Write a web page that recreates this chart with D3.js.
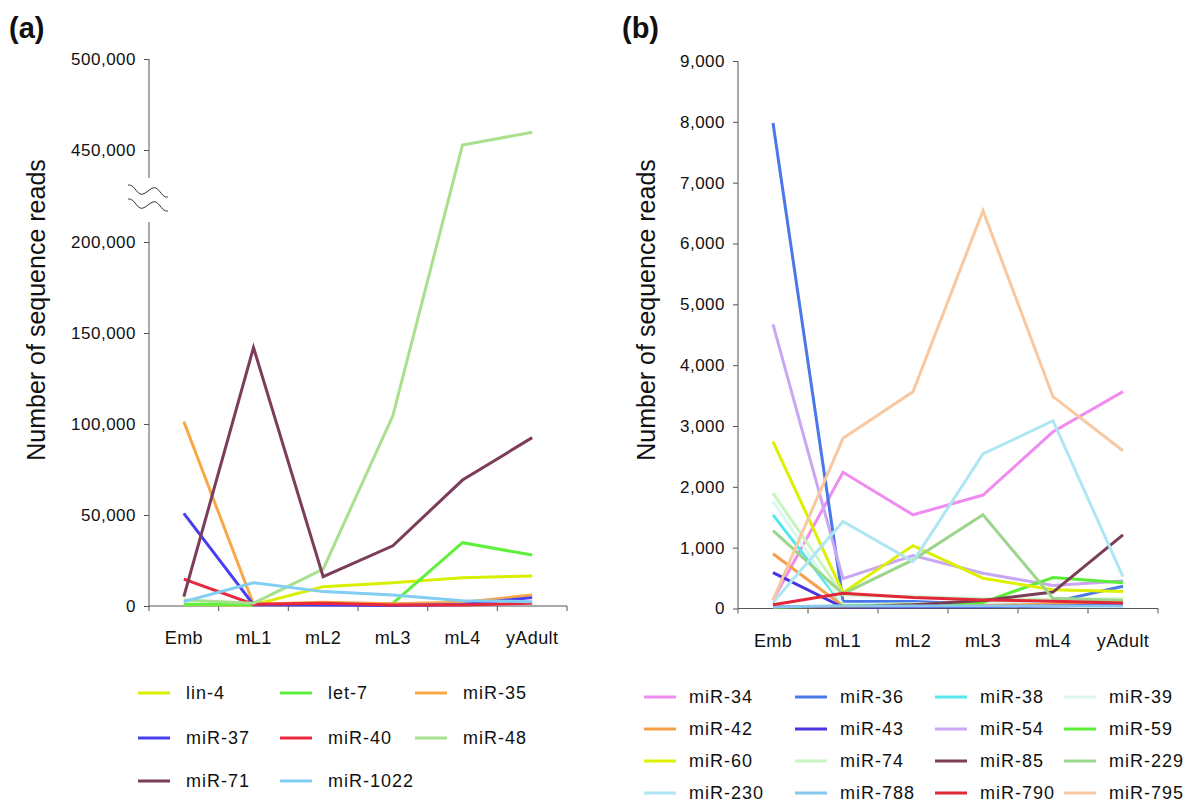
<!DOCTYPE html>
<html><head><meta charset="utf-8">
<script src="https://cdn.jsdelivr.net/npm/d3@7/dist/d3.min.js"></script>
<style>
html,body{margin:0;padding:0;background:#fff;}
svg text{font-family:"Liberation Sans",Arial,Helvetica,sans-serif;fill:#111;}
</style></head>
<body>
<svg id="chart" width="1200" height="808"></svg>
<script>
// ---------- DATA ----------
const stages = ["Emb", "mL1", "mL2", "mL3", "mL4", "yAdult"];

// Panel (a)
const namesA = ["lin-4", "let-7", "miR-35", "miR-37", "miR-40", "miR-48", "miR-71", "miR-1022"];
const colorsA = ["#d8f000", "#5ef03a", "#f8a848", "#4a3ff0", "#e8283c", "#a8e08e", "#7b3d5b", "#82cdf2"];
const lin4   = [800, 600, 10600, 12800, 15500, 16500];
const let7   = [1000, 800, 800, 1500, 34800, 28000];
const mir35  = [101300, 1000, 2000, 1200, 2000, 6000];
const mir37  = [50900, 700, 500, 300, 800, 4600];
const mir40  = [14800, 1000, 1500, 600, 600, 1500];
const mir48  = [3300, 1500, 20300, 104500, 452700, 459700];
const mir71  = [5100, 142000, 16100, 33100, 69200, 92500];
const mir1022 = [2400, 12800, 7900, 6000, 2900, 2400];
const valuesA = [lin4, let7, mir35, mir37, mir40, mir48, mir71, mir1022];
const ticksA = [0, 50000, 100000, 150000, 200000, 450000, 500000];

// Panel (b)
const namesB = ["miR-34", "miR-36", "miR-38", "miR-39", "miR-42", "miR-43", "miR-54", "miR-59",
                "miR-60", "miR-74", "miR-85", "miR-229", "miR-230", "miR-788", "miR-790", "miR-795"];
const colorsB = ["#f08cf0", "#4a78e8", "#55e6ee", "#dcf7f0", "#f5a048", "#4a35e0", "#c8a8f2", "#5aee36",
                 "#dcf000", "#c8f4c0", "#7b3d55", "#9cd68c", "#aee6f4", "#86c6ef", "#e02838", "#f8c8a0"];
const mir34  = [140, 2240, 1540, 1865, 2905, 3565];
const mir36  = [7980, 120, 115, 75, 105, 365];
const mir38  = [1540, 50, 50, 50, 60, 80];
const mir39  = [1760, 60, 80, 100, 90, 100];
const mir42  = [900, 40, 60, 50, 70, 100];
const mir43  = [590, 20, 30, 30, 40, 60];
const mir54  = [4670, 490, 870, 580, 378, 454];
const mir59  = [15, 40, 60, 100, 510, 425];
const mir60  = [2745, 260, 1034, 498, 307, 279];
const mir74  = [1895, 220, 195, 160, 150, 160];
const mir85  = [30, 20, 60, 130, 270, 1210];
const mir229 = [1280, 240, 800, 1540, 167, 130];
const mir230 = [100, 1430, 772, 2540, 3087, 525];
const mir788 = [30, 40, 40, 40, 40, 40];
const mir790 = [60, 250, 180, 140, 120, 90];
const mir795 = [140, 2797, 3564, 6540, 3482, 2594];
const valuesB = [mir34, mir36, mir38, mir39, mir42, mir43, mir54, mir59,
                 mir60, mir74, mir85, mir229, mir230, mir788, mir790, mir795];
const ticksB = [0, 1000, 2000, 3000, 4000, 5000, 6000, 7000, 8000, 9000];

// ---------- DRAW ----------
const svg = d3.select("#chart");
const fmt = d3.format(",");
const AXC = "#555";

function panel(opts) {
  const g = svg.append("g");
  const x = d3.scaleBand().domain(stages).range([opts.x0, opts.x1]).padding(0);
  const y = opts.y;
  const cx = d => x(d) + x.bandwidth() / 2;

  const ya = d3.axisLeft(y).tickValues(opts.ticks).tickFormat(fmt).tickSize(5).tickPadding(8);
  const yg = g.append("g").attr("transform", `translate(${opts.x0},0)`).call(ya);
  yg.select(".domain").remove();
  yg.selectAll(".tick line").attr("stroke", AXC);
  yg.selectAll(".tick text").style("font-size", "17px").style("letter-spacing", "0.5px").attr("fill", "#111");

  opts.ySegments.forEach(s => {
    g.append("line").attr("x1", opts.x0).attr("x2", opts.x0).attr("y1", s[0]).attr("y2", s[1])
      .attr("stroke", AXC).attr("stroke-width", 1);
  });

  const xa = d3.axisBottom(x).tickSize(0).tickPadding(0);
  const xg = g.append("g").attr("transform", `translate(0,${y(0)})`).call(xa);
  xg.select(".domain").remove();
  xg.selectAll(".tick text").attr("y", 0).attr("dy", "38px").style("font-size", "18px")
    .style("letter-spacing", "0.4px").attr("fill", "#111");
  g.append("line").attr("x1", opts.x0).attr("x2", opts.x1).attr("y1", y(0)).attr("y2", y(0))
    .attr("stroke", AXC).attr("stroke-width", 1);
  const bounds = stages.map(s => x(s)).concat([opts.x1]);
  g.selectAll(".xt").data(bounds).enter().append("line")
    .attr("x1", d => d).attr("x2", d => d).attr("y1", y(0)).attr("y2", y(0) + 5)
    .attr("stroke", AXC).attr("stroke-width", 1);

  const line = d3.line().x((d, i) => cx(stages[i])).y(d => y(d));
  opts.values.forEach((vals, k) => {
    g.append("path").datum(vals).attr("d", line)
      .attr("fill", "none").attr("stroke", opts.colors[k]).attr("stroke-width", 3)
      .attr("stroke-linejoin", "miter").attr("stroke-linecap", "butt");
  });

  g.append("text").attr("transform", `translate(${opts.titleX},${opts.titleY}) rotate(-90)`)
    .attr("text-anchor", "middle").style("font-size", "25px").text("Number of sequence reads");

  g.append("text").attr("x", opts.labX).attr("y", 38).style("font-size", "29px")
    .style("font-weight", "bold").text(opts.label);

  opts.names.forEach((n, k) => {
    const col = k % opts.legCols, row = Math.floor(k / opts.legCols);
    const lx = opts.legX[col], ly = opts.legY[row];
    g.append("line").attr("x1", lx).attr("x2", lx + 32).attr("y1", ly).attr("y2", ly)
      .attr("stroke", opts.colors[k]).attr("stroke-width", 3);
    g.append("text").attr("x", lx + opts.legGap).attr("y", ly).attr("dy", "0.36em")
      .style("font-size", "18px").style("letter-spacing", "1px").text(n);
  });
  return {x, y};
}

// Panel (a): broken axis (piecewise-linear scale)
const yA = d3.scaleLinear().domain([0, 200000, 450000, 500000]).range([606, 242, 150, 59]);
panel({
  x0: 149, x1: 567, y: yA, ticks: ticksA, values: valuesA, colors: colorsA, names: namesA,
  ySegments: [[59, 178], [222, 606]], titleX: 45, titleY: 310, labX: 9, label: "(a)",
  legCols: 3, legX: [138, 280, 415], legY: [693, 738, 781], legGap: 48
});
const brk = d3.line().curve(d3.curveBasis);
[191, 205].forEach(cy => {
  const pts = [[128, cy - 6], [133, cy - 6], [140, cy + 6], [148, cy], [156, cy - 6], [163, cy + 6], [168, cy + 6]];
  svg.append("path").attr("d", brk(pts)).attr("fill", "none").attr("stroke", "#333").attr("stroke-width", 1);
});

// Panel (b)
const yB = d3.scaleLinear().domain([0, 9000]).range([608.5, 61]);
panel({
  x0: 738, x1: 1158, y: yB, ticks: ticksB, values: valuesB, colors: colorsB, names: namesB,
  ySegments: [[61, 608.5]], titleX: 655, titleY: 310, labX: 622, label: "(b)",
  legCols: 4, legX: [644, 795, 935, 1064], legY: [697, 729, 761, 793], legGap: 45
});
</script>
</body></html>
